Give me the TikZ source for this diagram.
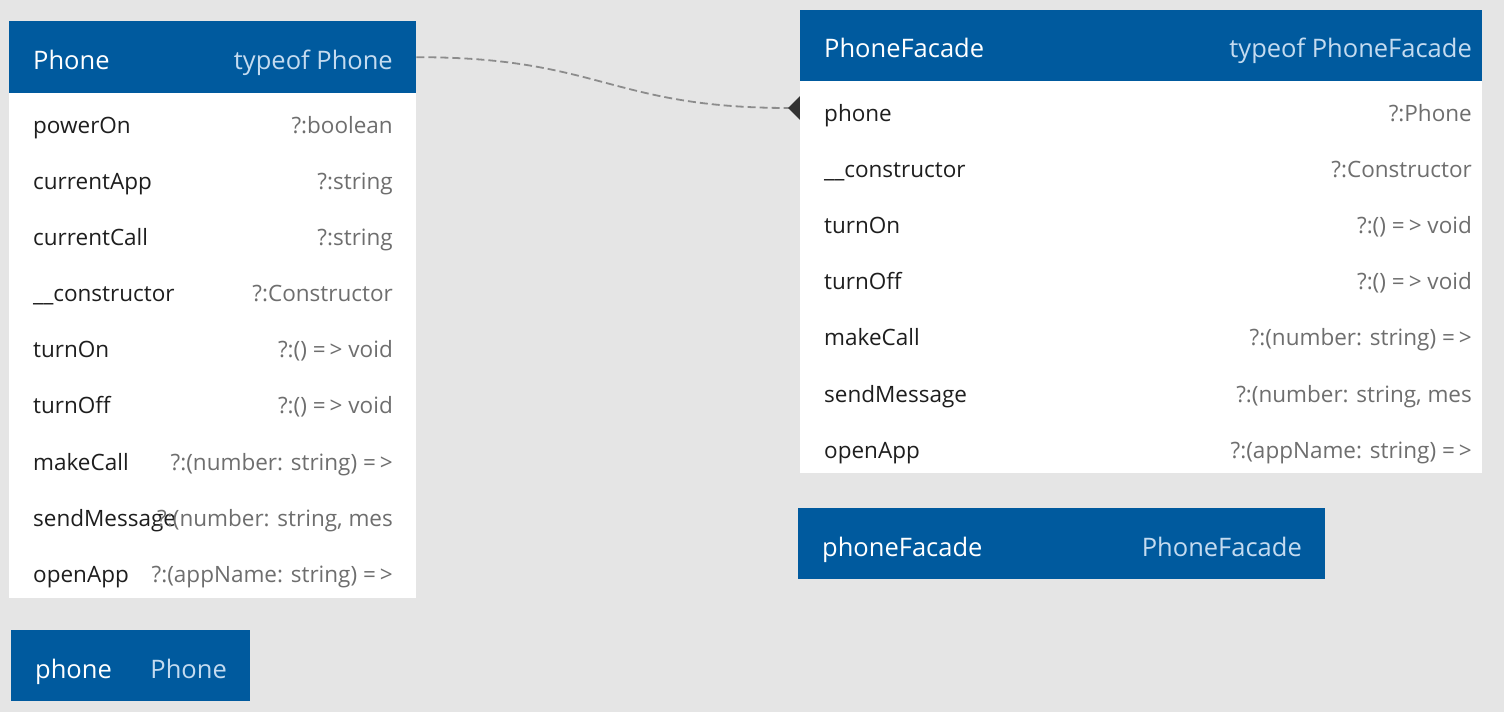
\documentclass[tikz,border=0pt]{standalone}
\usepackage{fontspec}
\setmainfont{Open Sans}
\usetikzlibrary{arrows.meta}
\definecolor{bgc}{HTML}{E5E5E5}
\definecolor{hdrc}{HTML}{005A9E}
\definecolor{lightc}{HTML}{C4DBF0}
\definecolor{namec}{HTML}{1E1E1E}
\definecolor{typec}{HTML}{6E6E6E}
\definecolor{linec}{HTML}{8C8C8C}
\definecolor{tipc}{HTML}{333333}
\pgfdeclarelayer{bg}
\pgfdeclarelayer{conns}
\pgfsetlayers{bg,conns,main}
\tikzset{
  hdr/.style={fill=hdrc, draw=none, inner sep=0pt, anchor=north west},
  bodybox/.style={fill=white, draw=none, inner sep=0pt, anchor=north west},
  htitle/.style={inner sep=0pt, anchor=base west, text=white, font=\fontsize{25.5}{30}\selectfont},
  htype/.style={inner sep=0pt, anchor=base east, text=lightc, font=\fontsize{25.5}{30}\selectfont},
  rname/.style={inner sep=0pt, anchor=base west, text=namec, font=\fontsize{22.5}{27}\selectfont},
  rtype/.style={inner sep=0pt, anchor=base east, text=typec, font=\fontsize{22.5}{27}\selectfont},
  conn/.style={draw=linec, line width=1.8pt, dash pattern=on 8pt off 4pt},
}
\newcommand{\arr}{=\kern4pt>}
\begin{document}
\begin{tikzpicture}[x=1pt,y=-1pt]
\begin{pgfonlayer}{bg}
\fill[bgc] (0,0) rectangle (1504,712);
\end{pgfonlayer}
\useasboundingbox (0,0) rectangle (1504,712);

% Phone (typeof Phone)
\node[hdr, minimum width=407pt, minimum height=72pt] (phoneHead) at (9,21) {};
\node[bodybox, minimum width=407pt, minimum height=505pt] (phoneBody) at (9,93) {};
\node[htitle] (pT) at (33,69) {Phone};
\node[htype] (pTy) at (393,69) {typeof Phone};
\node[rname] (p1) at (33,133) {powerOn};
\node[rtype] (p1t) at (393,133) {?:boolean};
\node[rname] (p2) at (33,189) {currentApp};
\node[rtype] (p2t) at (393,189) {?:string};
\node[rname] (p3) at (33,245) {currentCall};
\node[rtype] (p3t) at (393,245) {?:string};
\node[rname] (p4) at (33,301) {\_\_constructor};
\node[rtype] (p4t) at (393,301) {?:Constructor};
\node[rname] (p5) at (33,357) {turnOn};
\node[rtype] (p5t) at (393,357) {?:() \arr{} void};
\node[rname] (p6) at (33,413) {turnOff};
\node[rtype] (p6t) at (393,413) {?:() \arr{} void};
\node[rname] (p7) at (33,470) {makeCall};
\node[rtype] (p7t) at (393,470) {?:(number: string) \arr};
\node[rname] (p8) at (33,526) {sendMessage};
\node[rtype] (p8t) at (393,526) {?:(number: string, mes};
\node[rname] (p9) at (33,582) {openApp};
\node[rtype] (p9t) at (393,582) {?:(appName: string) \arr};

% phone : Phone
\node[hdr, minimum width=239pt, minimum height=71pt] (phoneVar) at (11,630) {};
\node[htitle] (pvT) at (35,678) {phone};
\node[htype] (pvTy) at (227,678) {Phone};

% PhoneFacade (typeof PhoneFacade)
\node[hdr, minimum width=682pt, minimum height=71pt] (facHead) at (800,10) {};
\node[bodybox, minimum width=682pt, minimum height=392pt] (facBody) at (800,81) {};
\node[htitle] (fT) at (824,57) {PhoneFacade};
\node[htype] (fTy) at (1472,57) {typeof PhoneFacade};
\node[rname] (f1) at (824,121) {phone};
\node[rtype] (f1t) at (1472,121) {?:Phone};
\node[rname] (f2) at (824,177) {\_\_constructor};
\node[rtype] (f2t) at (1472,177) {?:Constructor};
\node[rname] (f3) at (824,233) {turnOn};
\node[rtype] (f3t) at (1472,233) {?:() \arr{} void};
\node[rname] (f4) at (824,289) {turnOff};
\node[rtype] (f4t) at (1472,289) {?:() \arr{} void};
\node[rname] (f5) at (824,345) {makeCall};
\node[rtype] (f5t) at (1472,345) {?:(number: string) \arr};
\node[rname] (f6) at (824,402) {sendMessage};
\node[rtype] (f6t) at (1472,402) {?:(number: string, mes};
\node[rname] (f7) at (824,458) {openApp};
\node[rtype] (f7t) at (1472,458) {?:(appName: string) \arr};

% phoneFacade : PhoneFacade
\node[hdr, minimum width=527pt, minimum height=71pt] (facVar) at (798,508) {};
\node[htitle] (fvT) at (822,556) {phoneFacade};
\node[htype] (fvTy) at (1302,556) {PhoneFacade};

% connector
\coordinate (facIn) at (800,108);
\begin{pgfonlayer}{conns}
\draw[conn, shorten >=-12pt, -{Diamond[length=24pt,width=24pt,color=tipc,fill=tipc]}]
  (phoneHead.east) .. controls (600,57) and (610,108) .. (facIn);
\end{pgfonlayer}
\end{tikzpicture}
\end{document}
